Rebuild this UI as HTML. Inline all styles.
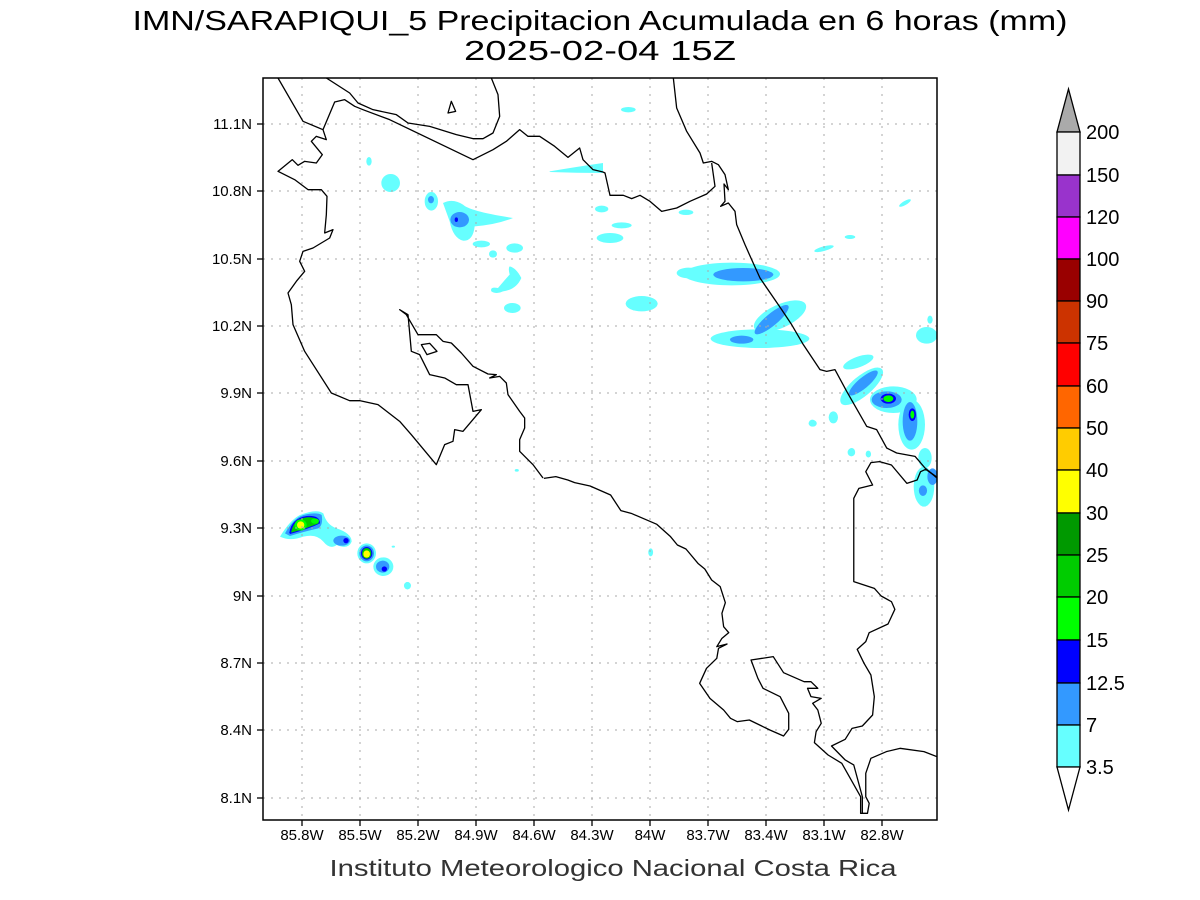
<!DOCTYPE html>
<html><head><meta charset="utf-8"><style>html,body{margin:0;padding:0;background:#fff}svg{display:block}</style></head>
<body>
<svg xmlns="http://www.w3.org/2000/svg" width="1200" height="900" viewBox="0 0 1200 900" font-family="Liberation Sans, sans-serif">
<rect width="1200" height="900" fill="#fff"/>
<text x="600" y="30" font-size="28" text-anchor="middle" textLength="935" lengthAdjust="spacingAndGlyphs" fill="#000">IMN/SARAPIQUI_5 Precipitacion Acumulada en 6 horas (mm)</text>
<text x="600" y="60" font-size="28" text-anchor="middle" textLength="272" lengthAdjust="spacingAndGlyphs" fill="#000">2025-02-04 15Z</text>

<defs><clipPath id="c"><rect x="263" y="78" width="674" height="742"/></clipPath></defs>
<g clip-path="url(#c)">
<g transform="translate(263,78) scale(0.33333)">
<ellipse cx="318" cy="250" rx="8" ry="13" fill="#66ffff"/>
<ellipse cx="383" cy="315" rx="28" ry="27" fill="#66ffff"/>
<ellipse cx="505" cy="370" rx="20" ry="28" fill="#66ffff"/>
<ellipse cx="504" cy="365" rx="9" ry="11" fill="#3399ff"/>
<path d="M540,375 Q570,360 600,380 Q620,400 750,420 Q700,440 635,445 Q630,490 600,488 Q570,480 560,430 Z" fill="#66ffff"/>
<ellipse cx="590" cy="425" rx="28" ry="23" fill="#3399ff"/>
<ellipse cx="580" cy="425" rx="5" ry="7" fill="#0000ff"/>
<ellipse cx="655" cy="498" rx="26" ry="10" fill="#66ffff"/>
<ellipse cx="690" cy="528" rx="12" ry="11" fill="#66ffff"/>
<ellipse cx="755" cy="510" rx="25" ry="14" fill="#66ffff"/>
<path d="M740,565 Q760,570 775,600 Q760,635 720,640 Q700,650 685,640 Q680,625 705,630 Q730,600 740,590 Q735,570 740,565Z" fill="#66ffff"/>
<ellipse cx="748" cy="690" rx="25" ry="15" fill="#66ffff"/>
<path d="M860,280 Q950,265 1020,255 L1020,285 Q940,285 860,282Z" fill="#66ffff"/>
</g>
<g transform="translate(600,78) scale(0.33333)">
<ellipse cx="85" cy="95" rx="22" ry="8" fill="#66ffff"/>
<ellipse cx="5" cy="393" rx="20" ry="10" fill="#66ffff"/>
<ellipse cx="258" cy="403" rx="22" ry="8" fill="#66ffff"/>
<ellipse cx="65" cy="442" rx="30" ry="9" fill="#66ffff"/>
<ellipse cx="30" cy="480" rx="40" ry="15" fill="#66ffff"/>
<ellipse cx="265" cy="585" rx="35" ry="16" fill="#66ffff"/>
<ellipse cx="395" cy="588" rx="145" ry="34" fill="#66ffff"/>
<ellipse cx="430" cy="590" rx="90" ry="20" fill="#3399ff"/>
<ellipse cx="125" cy="677" rx="48" ry="23" fill="#66ffff"/>
<ellipse cx="480" cy="782" rx="148" ry="28" fill="#66ffff"/>
<ellipse cx="540" cy="715" rx="85" ry="35" transform="rotate(-25 540 715)" fill="#66ffff"/>
<ellipse cx="515" cy="725" rx="65" ry="18" transform="rotate(-40 515 725)" fill="#3399ff"/>
<ellipse cx="425" cy="785" rx="35" ry="12" fill="#3399ff"/>
<ellipse cx="915" cy="375" rx="20" ry="6" transform="rotate(-30 915 375)" fill="#66ffff"/>
<ellipse cx="750" cy="477" rx="16" ry="6" fill="#66ffff"/>
<ellipse cx="672" cy="512" rx="30" ry="7" transform="rotate(-15 672 512)" fill="#66ffff"/>
<ellipse cx="990" cy="725" rx="8" ry="12" fill="#66ffff"/>
<ellipse cx="980" cy="772" rx="32" ry="25" fill="#66ffff"/>
<ellipse cx="775" cy="852" rx="48" ry="16" transform="rotate(-20 775 852)" fill="#66ffff"/>
<ellipse cx="785" cy="925" rx="80" ry="30" transform="rotate(-40 785 925)" fill="#66ffff"/>
<ellipse cx="790" cy="915" rx="55" ry="16" transform="rotate(-40 790 915)" fill="#3399ff"/>
<ellipse cx="880" cy="965" rx="70" ry="40" fill="#66ffff"/>
<ellipse cx="935" cy="1040" rx="40" ry="75" fill="#66ffff"/>
<ellipse cx="860" cy="965" rx="45" ry="25" fill="#3399ff"/>
<ellipse cx="930" cy="1030" rx="22" ry="58" fill="#3399ff"/>
<ellipse cx="865" cy="962" rx="23" ry="15" fill="#0000ff"/>
<ellipse cx="865" cy="962" rx="15" ry="10" fill="#00ff00"/>
<ellipse cx="937" cy="1010" rx="11" ry="19" fill="#0000ff"/>
<ellipse cx="937" cy="1010" rx="6" ry="12" fill="#00ff00"/>
<ellipse cx="700" cy="1018" rx="14" ry="18" fill="#66ffff"/>
<ellipse cx="637" cy="1035" rx="10" ry="10" fill="#66ffff"/>
<ellipse cx="755" cy="1122" rx="10" ry="12" fill="#66ffff"/>
<ellipse cx="805" cy="1128" rx="8" ry="10" fill="#66ffff"/>
<ellipse cx="975" cy="1140" rx="20" ry="30" fill="#66ffff"/>
</g>
<g transform="translate(400,420) scale(0.34247,0.33333)">
<ellipse cx="1205" cy="10" rx="12" ry="10" fill="#66ffff"/>
<ellipse cx="1318" cy="97" rx="11" ry="12" fill="#66ffff"/>
<ellipse cx="1368" cy="103" rx="7" ry="9" fill="#66ffff"/>
<ellipse cx="1530" cy="200" rx="30" ry="60" fill="#66ffff"/>
<ellipse cx="1527" cy="212" rx="12" ry="16" fill="#3399ff"/>
<ellipse cx="1555" cy="170" rx="15" ry="25" fill="#3399ff"/>
<ellipse cx="732" cy="397" rx="7" ry="12" fill="#66ffff"/>
<ellipse cx="22" cy="497" rx="10" ry="11" fill="#66ffff"/>
<ellipse cx="341" cy="151" rx="6" ry="4" fill="#66ffff"/>
</g>
<g transform="translate(270,500) scale(0.33333)">
<path d="M30,110 Q60,60 90,45 Q140,25 160,40 Q170,75 200,85 Q245,100 245,125 Q235,150 200,135 Q180,150 160,125 Q140,100 100,110 Q60,125 30,110Z" fill="#66ffff"/>
<path d="M45,100 Q70,55 100,45 Q140,35 155,45 Q160,75 145,85 Q100,95 60,108Z" fill="#3399ff"/>
<ellipse cx="215" cy="122" rx="25" ry="15" fill="#3399ff"/>
<ellipse cx="228" cy="122" rx="8" ry="8" fill="#0000ff"/>
<path d="M58,98 Q65,55 110,48 Q150,45 150,70 Q120,85 60,102Z" fill="#0000ff"/>
<path d="M64,95 Q70,58 110,52 Q145,50 146,70 Q115,83 64,98Z" fill="#00cc00"/>
<ellipse cx="92" cy="75" rx="18" ry="17" fill="#00ff00"/>
<ellipse cx="92" cy="75" rx="11" ry="11" fill="#ffff00"/>
<ellipse cx="135" cy="63" rx="12" ry="8" fill="#00ff00"/>
<ellipse cx="290" cy="160" rx="28" ry="30" fill="#66ffff"/>
<ellipse cx="340" cy="200" rx="30" ry="28" fill="#66ffff"/>
<ellipse cx="338" cy="200" rx="20" ry="18" fill="#3399ff"/>
<ellipse cx="343" cy="207" rx="8" ry="8" fill="#0000ff"/>
<ellipse cx="290" cy="160" rx="22" ry="24" fill="#3399ff"/>
<ellipse cx="290" cy="160" rx="17" ry="19" fill="#0000ff"/>
<ellipse cx="290" cy="160" rx="14" ry="16" fill="#00cc00"/>
<ellipse cx="290" cy="162" rx="10" ry="11" fill="#ffff00"/>
<ellipse cx="370" cy="140" rx="5" ry="3" fill="#66ffff"/>
<ellipse cx="412" cy="257" rx="10" ry="11" fill="#66ffff"/>
</g>

<g stroke="#aaa" stroke-width="1" stroke-dasharray="2,6">
<line x1="302" y1="78" x2="302" y2="820"/><line x1="360" y1="78" x2="360" y2="820"/><line x1="418" y1="78" x2="418" y2="820"/><line x1="476" y1="78" x2="476" y2="820"/><line x1="534" y1="78" x2="534" y2="820"/><line x1="592" y1="78" x2="592" y2="820"/><line x1="650" y1="78" x2="650" y2="820"/><line x1="708" y1="78" x2="708" y2="820"/><line x1="766" y1="78" x2="766" y2="820"/><line x1="824" y1="78" x2="824" y2="820"/><line x1="882" y1="78" x2="882" y2="820"/>
<line x1="263" y1="124" x2="937" y2="124"/><line x1="263" y1="191" x2="937" y2="191"/><line x1="263" y1="259" x2="937" y2="259"/><line x1="263" y1="326" x2="937" y2="326"/><line x1="263" y1="393" x2="937" y2="393"/><line x1="263" y1="461" x2="937" y2="461"/><line x1="263" y1="528" x2="937" y2="528"/><line x1="263" y1="596" x2="937" y2="596"/><line x1="263" y1="663" x2="937" y2="663"/><line x1="263" y1="730" x2="937" y2="730"/><line x1="263" y1="798" x2="937" y2="798"/>
</g>

<g fill="none" stroke="#000" stroke-width="1.3" stroke-linejoin="round">
<g transform="translate(263,78) scale(0.33333)">
<path vector-effect="non-scaling-stroke" d="M45,0 L120,130 L180,155 L190,185 L160,175 L145,190 L178,230 L160,255 L125,250 L105,262 L88,245 L45,280 L95,305 L135,335 L175,335 L192,355 L190,410 L185,465 L210,455 L200,480 L150,510 L120,520 L110,550 L125,580 L100,610 L75,645 L85,680 L90,740 L125,820 L205,945 L260,968 L290,968 L345,980 L410,1030 L445,1070 L520,1160 L545,1100 L570,1090 L575,1055 L600,1060 L655,995 L630,1000 L615,920 L580,920 L545,900 L500,890 L470,830 L445,820 L435,710 L410,695 L430,710 L465,770 L520,770 L540,790 L565,795 L595,825 L630,865 L675,888 L700,890 L680,900 L710,895 L730,915 L735,950 L770,1000 L785,1020 L785,1050 L770,1085 L770,1120 L810,1160 L840,1200"/>
<path vector-effect="non-scaling-stroke" d="M190,0 L260,45 L285,75 L330,95 L400,110 L435,135 L500,145 L580,170 L630,182 L660,182 L690,165 L710,115 L705,50 L685,0"/>
<path vector-effect="non-scaling-stroke" d="M180,155 L215,72 L245,65 L275,85 L300,95 L380,125 L630,245 L690,215 L730,190 L770,155 L795,175 L830,175 L875,205 L915,238 L950,210 L960,245 L990,275 L1020,282"/>
<path vector-effect="non-scaling-stroke" d="M555,105 L565,70 L578,100 Z"/>
<path vector-effect="non-scaling-stroke" d="M475,800 L500,796 L522,820 L492,830 Z"/>
</g>
<g transform="translate(600,78) scale(0.33333)">
<path vector-effect="non-scaling-stroke" d="M9,282 L15,285 L30,352 L70,352 L95,362 L120,352 L150,370 L185,400 L230,390 L270,370 L320,348 L345,325 L335,255"/>
<path vector-effect="non-scaling-stroke" d="M220,0 L230,90 L260,160 L300,225 L310,255 L335,250 L355,260 L375,290 L385,335 L372,318 L375,370 L362,385 L385,375 L405,400 L410,440 L435,500 L455,545 L480,600 L545,695 L575,740 L610,800 L660,875 L680,880 L705,875 L740,940 L800,1045 L830,1055 L860,1110 L890,1125 L945,1135 L975,1170 L1011,1200"/>
</g>
<g transform="translate(400,420) scale(0.34247,0.33333)">
<path vector-effect="non-scaling-stroke" d="M420,175 L455,170 L490,180 L510,188 L555,198 L615,225 L645,272 L675,280 L750,313 L790,350 L810,375 L835,387 L870,430 L890,447 L910,480 L935,500 L950,548 L940,580 L945,620 L960,638 L940,655 L925,680 L955,672 L930,685 L925,715 L895,745 L875,790 L905,835 L945,870 L965,895 L985,905 L1020,900 L1080,930 L1120,948 L1135,928 L1135,880 L1110,830 L1060,805 L1045,775 L1025,720 L1090,710 L1120,758 L1180,785 L1200,785 L1220,805 L1190,805 L1200,830 L1230,835 L1205,850 L1220,870 L1230,910 L1215,935 L1210,968 L1250,1005 L1290,1030 L1345,1130 L1345,1180 L1365,1180 L1370,1150 L1360,1130 L1360,1060 L1375,1015 L1420,995 L1460,985 L1530,995 L1580,1015"/>
<path vector-effect="non-scaling-stroke" d="M1350,1180 L1350,1130 L1325,1035 L1300,1020 L1260,978 L1300,958 L1320,925 L1350,918 L1380,885 L1385,830 L1375,765 L1355,730 L1335,688 L1360,665 L1370,638 L1425,612 L1445,568 L1435,545 L1405,528 L1385,505 L1325,485 L1325,235 L1340,205 L1380,195 L1360,155 L1375,128 L1400,125 L1435,135 L1480,190 L1510,180 L1520,155 L1535,148 L1580,180"/>
</g>
</g>
</g>

<rect x="263" y="78" width="674" height="742" fill="none" stroke="#000" stroke-width="1.5"/>
<g stroke="#000" stroke-width="1.3">
<line x1="302" y1="820" x2="302" y2="826"/><line x1="360" y1="820" x2="360" y2="826"/><line x1="418" y1="820" x2="418" y2="826"/><line x1="476" y1="820" x2="476" y2="826"/><line x1="534" y1="820" x2="534" y2="826"/><line x1="592" y1="820" x2="592" y2="826"/><line x1="650" y1="820" x2="650" y2="826"/><line x1="708" y1="820" x2="708" y2="826"/><line x1="766" y1="820" x2="766" y2="826"/><line x1="824" y1="820" x2="824" y2="826"/><line x1="882" y1="820" x2="882" y2="826"/>
<line x1="257" y1="124" x2="263" y2="124"/><line x1="257" y1="191" x2="263" y2="191"/><line x1="257" y1="259" x2="263" y2="259"/><line x1="257" y1="326" x2="263" y2="326"/><line x1="257" y1="393" x2="263" y2="393"/><line x1="257" y1="461" x2="263" y2="461"/><line x1="257" y1="528" x2="263" y2="528"/><line x1="257" y1="596" x2="263" y2="596"/><line x1="257" y1="663" x2="263" y2="663"/><line x1="257" y1="730" x2="263" y2="730"/><line x1="257" y1="798" x2="263" y2="798"/>
</g>
<g font-size="15" fill="#000" text-anchor="middle">
<text x="302" y="840">85.8W</text><text x="360" y="840">85.5W</text><text x="418" y="840">85.2W</text><text x="476" y="840">84.9W</text><text x="534" y="840">84.6W</text><text x="592" y="840">84.3W</text><text x="650" y="840">84W</text><text x="708" y="840">83.7W</text><text x="766" y="840">83.4W</text><text x="824" y="840">83.1W</text><text x="882" y="840">82.8W</text>
</g>
<g font-size="15" fill="#000" text-anchor="end">
<text x="252" y="129">11.1N</text><text x="252" y="196">10.8N</text><text x="252" y="264">10.5N</text><text x="252" y="331">10.2N</text><text x="252" y="398">9.9N</text><text x="252" y="466">9.6N</text><text x="252" y="533">9.3N</text><text x="252" y="601">9N</text><text x="252" y="668">8.7N</text><text x="252" y="735">8.4N</text><text x="252" y="803">8.1N</text>
</g>
<text x="613" y="876" font-size="23" text-anchor="middle" textLength="567" lengthAdjust="spacingAndGlyphs" fill="#333">Instituto Meteorologico Nacional Costa Rica</text>

<g stroke="#000" stroke-width="1.3">
<polygon points="1057,132 1080,132 1068.5,89" fill="#aaaaaa"/>
<rect x="1057" y="132" width="23" height="43" fill="#f2f2f2"/>
<rect x="1057" y="175" width="23" height="42" fill="#9933cc"/>
<rect x="1057" y="217" width="23" height="42" fill="#ff00ff"/>
<rect x="1057" y="259" width="23" height="42" fill="#990000"/>
<rect x="1057" y="301" width="23" height="42" fill="#cc3300"/>
<rect x="1057" y="343" width="23" height="43" fill="#ff0000"/>
<rect x="1057" y="386" width="23" height="42" fill="#ff6600"/>
<rect x="1057" y="428" width="23" height="42" fill="#ffcc00"/>
<rect x="1057" y="470" width="23" height="43" fill="#ffff00"/>
<rect x="1057" y="513" width="23" height="42" fill="#009900"/>
<rect x="1057" y="555" width="23" height="42" fill="#00cc00"/>
<rect x="1057" y="597" width="23" height="43" fill="#00ff00"/>
<rect x="1057" y="640" width="23" height="43" fill="#0000ff"/>
<rect x="1057" y="683" width="23" height="42" fill="#3399ff"/>
<rect x="1057" y="725" width="23" height="42" fill="#66ffff"/>
<polygon points="1057,767 1080,767 1068.5,810" fill="#ffffff"/>
</g>
<g font-size="20" fill="#000">
<text x="1086" y="139">200</text><text x="1086" y="182">150</text><text x="1086" y="224">120</text><text x="1086" y="266">100</text><text x="1086" y="308">90</text><text x="1086" y="350">75</text><text x="1086" y="393">60</text><text x="1086" y="435">50</text><text x="1086" y="477">40</text><text x="1086" y="520">30</text><text x="1086" y="562">25</text><text x="1086" y="604">20</text><text x="1086" y="647">15</text><text x="1086" y="690">12.5</text><text x="1086" y="732">7</text><text x="1086" y="774">3.5</text>
</g>
</svg>
</body></html>
